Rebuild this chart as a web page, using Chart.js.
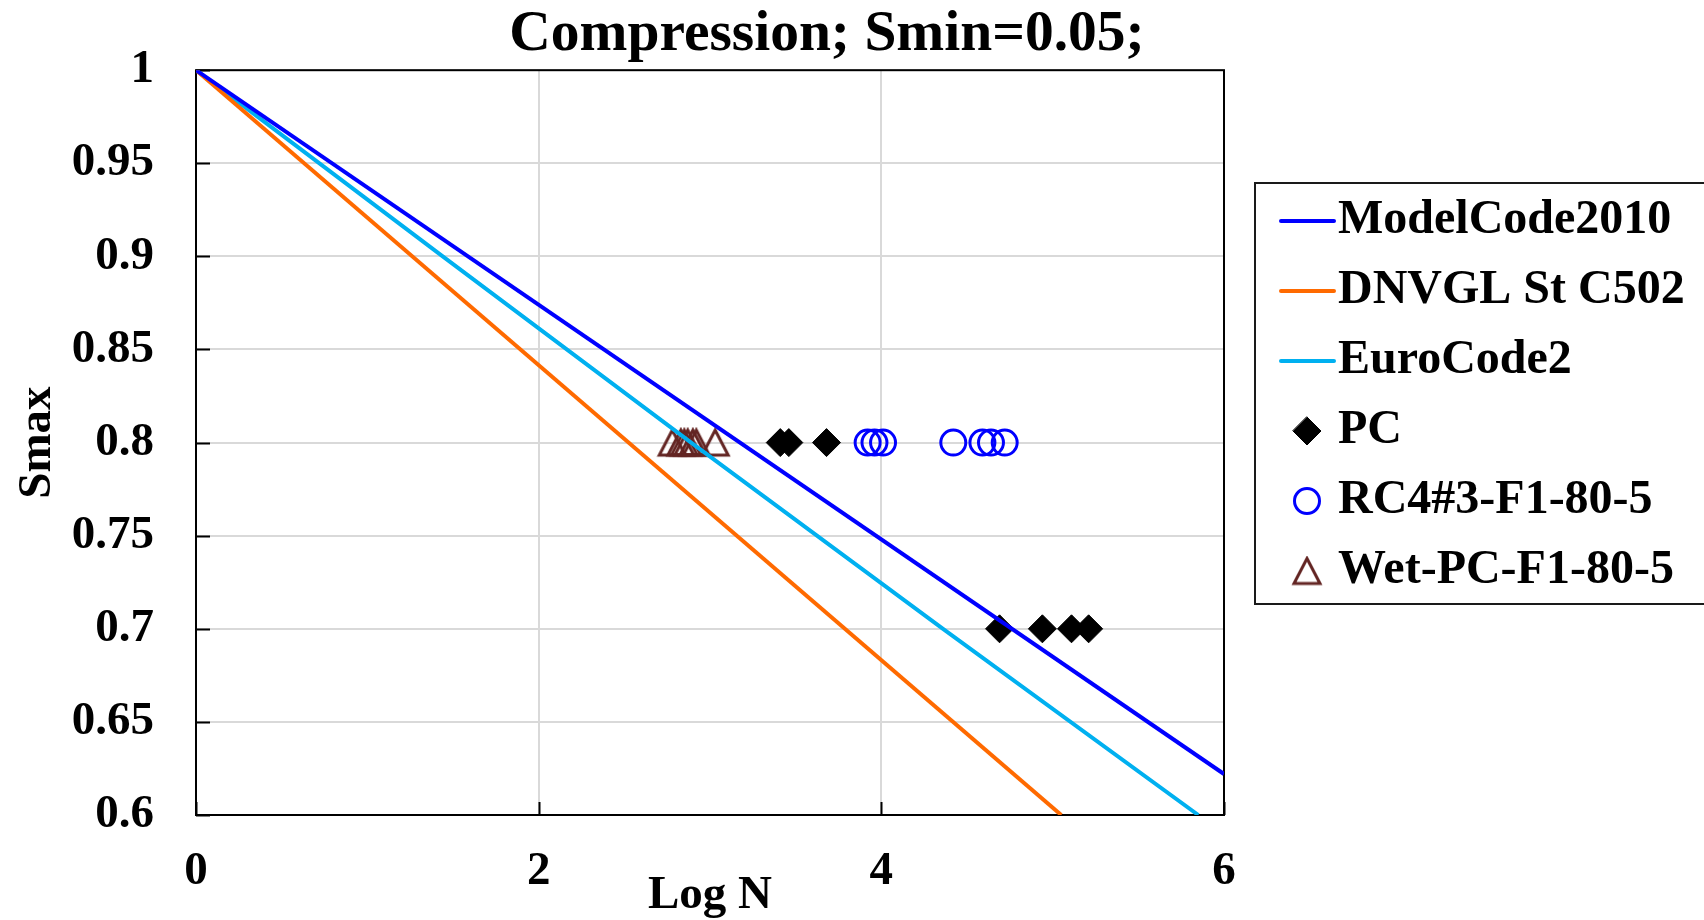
<!DOCTYPE html>
<html>
<head>
<meta charset="utf-8">
<script src="https://cdn.jsdelivr.net/npm/chart.js@4.4.1/dist/chart.umd.min.js"></script>
<style>
  html, body { margin: 0; padding: 0; background: #ffffff; }
  canvas { display: block; }
</style>
</head>
<body>
<canvas id="fatigue" width="1704" height="920"></canvas>
<script>
// ---- text ----
const chartTitle = 'Compression; Smin=0.05;';
const xAxisTitle = 'Log N';
const yAxisTitle = 'Smax';

// ---- axis ticks ----
const xTickValues = [0, 2, 4, 6];
const xTickLabels = ['0', '2', '4', '6'];
const yTickValues = [0.6, 0.65, 0.7, 0.75, 0.8, 0.85, 0.9, 0.95, 1];
const yTickLabels = ['0.6', '0.65', '0.7', '0.75', '0.8', '0.85', '0.9', '0.95', '1'];

// ---- design code curves (Log N, Smax) ----
const modelCodeLogN = [0, 6];
const modelCodeSmax = [1, 0.622];
const dnvglLogN = [0, 5.05];
const dnvglSmax = [1, 0.6];
const euroCodeLogN = [0, 1.44, 2.89, 4.36, 5.85];
const euroCodeSmax = [1, 0.9, 0.8, 0.7, 0.6];

// ---- test results (Log N, Smax) ----
const pcLogN = [3.41, 3.46, 3.68, 4.69, 4.94, 5.11, 5.21];
const pcSmax = [0.8, 0.8, 0.8, 0.7, 0.7, 0.7, 0.7];
const rcLogN = [3.92, 3.96, 4.01, 4.42, 4.59, 4.64, 4.72];
const rcSmax = [0.8, 0.8, 0.8, 0.8, 0.8, 0.8, 0.8];
const wetLogN = [2.78, 2.83, 2.85, 2.87, 2.90, 2.92, 3.03];
const wetSmax = [0.8, 0.8, 0.8, 0.8, 0.8, 0.8, 0.8];

const SERIF = '"Liberation Serif", "Times New Roman", Times, serif';
const boldFont = size => ({ family: SERIF, weight: 'bold', size: size, lineHeight: 1.2 });

const pts = (xs, ys) => xs.map((x, i) => ({ x: x, y: ys[i] }));

// Hollow triangle marker whose bounding box is centred on the data point
function triangleMarker(w, h, color, lw) {
  const c = document.createElement('canvas');
  c.width = Math.ceil(w + lw * 2);
  c.height = Math.ceil(h + lw * 2);
  const g = c.getContext('2d');
  const cx = c.width / 2;
  const top = (c.height - h) / 2;
  g.strokeStyle = color;
  g.lineWidth = lw;
  g.lineJoin = 'miter';
  g.beginPath();
  g.moveTo(cx, top);
  g.lineTo(cx + w / 2, top + h);
  g.lineTo(cx - w / 2, top + h);
  g.closePath();
  g.stroke();
  return c;
}

const lineSet = (label, xs, ys, color) => ({
  label: label,
  data: pts(xs, ys),
  showLine: true,
  fill: false,
  tension: 0,
  borderColor: color,
  backgroundColor: color,
  borderWidth: 4,
  pointRadius: 0,
  pointHoverRadius: 0,
  legendKind: 'line'
});

const markerSet = (label, xs, ys, style, radius, stroke, fillColor, width) => ({
  label: label,
  data: pts(xs, ys),
  showLine: false,
  pointStyle: style,
  pointRadius: radius,
  pointHoverRadius: radius,
  pointBorderColor: stroke,
  pointBackgroundColor: fillColor,
  pointBorderWidth: width,
  borderColor: stroke,
  backgroundColor: fillColor,
  legendKind: 'marker'
});

// Outline of the plot area, short inward tick marks
const frameAndTicks = {
  id: 'frameAndTicks',
  beforeDatasetsDraw(chart) {
    const { ctx, chartArea: a, scales } = chart;
    ctx.save();
    ctx.strokeStyle = '#000000';
    ctx.lineWidth = 2;
    ctx.strokeRect(a.left, a.top, a.right - a.left, a.bottom - a.top);
    ctx.beginPath();
    yTickValues.forEach(v => {
      const y = Math.round(scales.y.getPixelForValue(v)) + 0.5;
      ctx.moveTo(a.left, y);
      ctx.lineTo(a.left + 14, y);
    });
    xTickValues.forEach(v => {
      const x = Math.round(scales.x.getPixelForValue(v)) + 0.5;
      ctx.moveTo(x, a.bottom);
      ctx.lineTo(x, a.bottom - 13);
    });
    ctx.stroke();
    ctx.restore();
  }
};

function drawMarker(ctx, style, x, y, r) {
  ctx.beginPath();
  if (style === 'rectRot') {
    ctx.moveTo(x, y - r);
    ctx.lineTo(x + r, y);
    ctx.lineTo(x, y + r);
    ctx.lineTo(x - r, y);
    ctx.closePath();
  } else if (style === 'circle') {
    ctx.arc(x, y, r, 0, Math.PI * 2);
  }
}

// Chart title and boxed legend to the right of the plot
const titleAndLegend = {
  id: 'titleAndLegend',
  afterDraw(chart) {
    const ctx = chart.ctx;
    ctx.save();
    ctx.fillStyle = '#000000';
    ctx.font = 'bold 57.5px ' + SERIF;
    ctx.textAlign = 'center';
    ctx.textBaseline = 'alphabetic';
    ctx.fillText(chartTitle, 827, 50);

    const boxLeft = 1255, boxTop = 183, boxBottom = 604;
    ctx.strokeStyle = '#1a1a1a';
    ctx.lineWidth = 2;
    ctx.strokeRect(boxLeft, boxTop, 1720 - boxLeft, boxBottom - boxTop);

    ctx.font = 'bold 48px ' + SERIF;
    ctx.textAlign = 'left';
    ctx.textBaseline = 'middle';
    chart.data.datasets.forEach((ds, i) => {
      const y = 221 + i * 70;
      if (ds.legendKind === 'line') {
        ctx.strokeStyle = ds.borderColor;
        ctx.lineWidth = 4;
        ctx.lineCap = 'round';
        ctx.beginPath();
        ctx.moveTo(1281, y);
        ctx.lineTo(1334, y);
        ctx.stroke();
      } else if (ds.pointStyle instanceof HTMLCanvasElement) {
        const img = ds.pointStyle;
        ctx.drawImage(img, 1307 - img.width / 2, y - img.height / 2);
      } else {
        drawMarker(ctx, ds.pointStyle, 1307, y, ds.pointRadius);
        if (ds.pointBackgroundColor !== 'transparent') {
          ctx.fillStyle = ds.pointBackgroundColor;
          ctx.fill();
        }
        ctx.strokeStyle = ds.pointBorderColor;
        ctx.lineWidth = ds.pointBorderWidth;
        ctx.stroke();
      }
      ctx.fillStyle = '#000000';
      ctx.fillText(ds.label, 1338, y);
    });
    ctx.restore();
  }
};

const wetTriangle = triangleMarker(26, 25, '#632523', 3);

new Chart(document.getElementById('fatigue'), {
  type: 'scatter',
  data: {
    datasets: [
      lineSet('ModelCode2010', modelCodeLogN, modelCodeSmax, '#0000FF'),
      lineSet('DNVGL St C502', dnvglLogN, dnvglSmax, '#FF6A00'),
      lineSet('EuroCode2', euroCodeLogN, euroCodeSmax, '#00B0F0'),
      markerSet('PC', pcLogN, pcSmax, 'rectRot', 14, '#000000', '#000000', 1),
      markerSet('RC4#3-F1-80-5', rcLogN, rcSmax, 'circle', 12.5, '#0000FF', 'transparent', 3),
      markerSet('Wet-PC-F1-80-5', wetLogN, wetSmax, wetTriangle, 15, '#632523', 'transparent', 3)
    ]
  },
  options: {
    responsive: false,
    animation: false,
    devicePixelRatio: 1,
    events: [],
    layout: { padding: { top: 68, right: 480, bottom: 0, left: 0 } },
    plugins: {
      legend: { display: false },
      title: { display: false },
      tooltip: { enabled: false }
    },
    scales: {
      x: {
        type: 'linear',
        min: 0,
        max: 6,
        afterBuildTicks: s => { s.ticks = xTickValues.map(v => ({ value: v })); },
        afterFit: s => { s.height = 105; },
        grid: { color: '#D9D9D9', lineWidth: 2, drawTicks: false },
        border: { display: false },
        ticks: {
          color: '#000000',
          font: boldFont(47),
          padding: 29,
          maxRotation: 0,
          autoSkip: false,
          callback: (v, i) => xTickLabels[i]
        },
        title: {
          display: true,
          text: xAxisTitle,
          color: '#000000',
          font: boldFont(47),
          padding: { top: 0, bottom: -4 }
        }
      },
      y: {
        type: 'linear',
        min: 0.6,
        max: 1,
        afterBuildTicks: s => { s.ticks = yTickValues.map(v => ({ value: v })); },
        afterFit: s => { s.width = 196; },
        grid: { color: '#D9D9D9', lineWidth: 2, drawTicks: false },
        border: { display: false },
        ticks: {
          color: '#000000',
          font: boldFont(47),
          padding: 42,
          autoSkip: false,
          callback: (v, i) => yTickLabels[i]
        },
        title: {
          display: true,
          text: yAxisTitle,
          color: '#000000',
          font: boldFont(47),
          padding: { top: 10, bottom: 0 }
        }
      }
    }
  },
  plugins: [frameAndTicks, titleAndLegend]
});
</script>
</body>
</html>
